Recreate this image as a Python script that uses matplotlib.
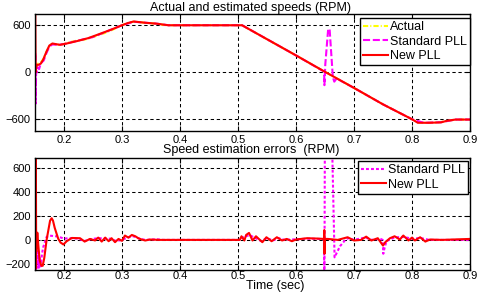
import matplotlib
matplotlib.use('Agg')
import matplotlib.pyplot as plt

plt.rcParams['font.family'] = ['Liberation Sans', 'DejaVu Sans']

# ---------------------------------------------------------------
# Data (time in sec, speed in RPM)
# ---------------------------------------------------------------
# top panel: actual speed
ACT_T = [0.15, 0.155, 0.16, 0.165, 0.17, 0.175, 0.18, 0.19, 0.20, 0.21,
         0.22, 0.23, 0.24, 0.25, 0.26, 0.27, 0.28, 0.29, 0.30, 0.31,
         0.32, 0.33, 0.34, 0.35, 0.36, 0.37, 0.38, 0.507, 0.55, 0.60,
         0.65, 0.70, 0.75, 0.80, 0.81, 0.82, 0.83, 0.84, 0.85, 0.86,
         0.87, 0.88, 0.90]
ACT_SPD = [20, 110, 125, 175, 265, 335, 362, 352, 360, 385,
           400, 410, 425, 450, 475, 500, 530, 565, 600, 630,
           645, 640, 630, 625, 620, 605, 600, 600, 420, 215,
           5, -200, -410, -600, -635, -645, -645, -642, -635, -622,
           -610, -604, -603]

# top panel: standard PLL estimate
STD_T = [0.15, 0.1505, 0.151, 0.152, 0.1535, 0.155, 0.157, 0.16, 0.165,
         0.17, 0.175, 0.18, 0.19, 0.20, 0.25, 0.30, 0.32, 0.36, 0.38,
         0.507, 0.60, 0.6485, 0.649, 0.6505, 0.6555, 0.658, 0.6635,
         0.666, 0.67, 0.70, 0.75, 0.80, 0.82, 0.85, 0.875, 0.90]
STD_SPD = [0, 246, -402, 20, 5, 60, 40, 115, 150,
           250, 330, 355, 350, 360, 450, 600, 645, 620, 600,
           600, 215, 8, -165, 100, 555, 545, -60,
           -120, -80, -200, -410, -600, -645, -638, -604, -603]

# top panel: new PLL estimate
NEW_T = [0.15, 0.1502, 0.151, 0.153, 0.156, 0.16, 0.164, 0.17, 0.1747,
         0.18, 0.193, 0.2046, 0.222, 0.242, 0.26, 0.28, 0.30, 0.31, 0.32,
         0.34, 0.36, 0.375, 0.38, 0.507, 0.60, 0.65, 0.70, 0.75, 0.80,
         0.81, 0.83, 0.85, 0.86, 0.875, 0.90]
NEW_SPD = [0, 800, 0, 95, 95, 110, 160, 267, 341,
           367, 350, 367, 397, 436, 485, 540, 600, 628, 648,
           632, 620, 605, 600, 600, 215, 5, -200, -410, -600,
           -645, -645, -640, -620, -604, -604]

# bottom panel: standard PLL error
ESTD_T = [0.15, 0.1505, 0.1512, 0.152, 0.153, 0.154, 0.155, 0.156, 0.157,
          0.158, 0.16, 0.162, 0.164, 0.167, 0.17, 0.176, 0.19, 0.20, 0.21,
          0.225, 0.235, 0.245, 0.26, 0.27, 0.28, 0.29, 0.30, 0.31, 0.32,
          0.33, 0.34, 0.36, 0.37, 0.503, 0.51, 0.52, 0.53, 0.54, 0.55,
          0.56, 0.57, 0.58, 0.60, 0.62, 0.64, 0.6482, 0.649, 0.6502, 0.659,
          0.6665, 0.671, 0.676, 0.685, 0.69, 0.70, 0.72, 0.73, 0.745,
          0.7495, 0.7505, 0.752, 0.756, 0.77, 0.785, 0.80, 0.815, 0.83, 0.90]
ESTD = [0, 900, -250, -100, -230, -60, -230, -100, -230,
        -150, -220, -120, -63, -20, 25, 35, 28, 10, 15,
        10, -10, 5, 15, 10, 10, -10, 0, 20, 30,
        10, 0, 5, 0, 0, 25, 40, 15, -10, 15,
        -5, 15, 0, 5, 10, 8, 5, -400, 1500, 1500,
        -145, -100, -52, 0, 15, 0, 20, 0, 10,
        0, -115, -80, -10, 20, 25, 10, 15, 0, 0]

# bottom panel: new PLL error
ENEW_T = [0.15, 0.1505, 0.151, 0.1515, 0.152, 0.154, 0.156, 0.158, 0.161,
          0.1633, 0.166, 0.17, 0.173, 0.176, 0.1787, 0.181, 0.184, 0.187,
          0.19, 0.194, 0.199, 0.2046, 0.2135, 0.2276, 0.2356, 0.2448,
          0.2535, 0.259, 0.265, 0.271, 0.277, 0.282, 0.288, 0.294, 0.300,
          0.305, 0.311, 0.317, 0.323, 0.328, 0.334, 0.340, 0.348, 0.366,
          0.503, 0.506, 0.511, 0.514, 0.519, 0.525, 0.531, 0.542, 0.549,
          0.558, 0.567, 0.576, 0.584, 0.593, 0.600, 0.619, 0.637, 0.6485,
          0.6488, 0.6492, 0.6496, 0.655, 0.672, 0.689, 0.700, 0.712, 0.721,
          0.730, 0.741, 0.750, 0.754, 0.762, 0.770, 0.779, 0.785, 0.794,
          0.800, 0.805, 0.814, 0.823, 0.831, 0.852, 0.900]
ENEW = [0, 900, -240, 700, -100, 60, -60, -170, -215,
        -215, -150, 0, 80, 160, 180, 160, 100, 55,
        10, -22, -38, -11, 16, 14, -14, 8,
        -5, 19, -14, 19, -11, 14, -19, 8, -8,
        36, 19, 41, 30, 14, 3, -5, 3, 0,
        0, 30, -5, 41, 58, -5, 30, -19, 22,
        -11, 22, -5, 8, -11, 3, 14, 11, 8,
        82, -115, 8, 8, 0, 22, -5, 0, 27,
        -5, 14, -47, -19, 14, 30, 3, 36, -5,
        19, -5, 22, -14, 3, 0, 8]

X_TICKS = [0.2, 0.3, 0.4, 0.5, 0.6, 0.7, 0.8, 0.9]
Y_TICKS_TOP = [-600, 0, 600]
Y_TICKS_BOT = [-200, 0, 200, 400, 600]

YELLOW, MAGENTA, RED = '#FFFF00', '#FF00FF', '#FF0000'


def style_axes(ax, yticks, ylim, xpad=3):
    ax.set_xlim(0.15, 0.9)
    ax.set_ylim(*ylim)
    ax.set_xticks(X_TICKS)
    ax.set_xticklabels([f'{v:g}' for v in X_TICKS])
    ax.set_yticks(yticks)
    ax.tick_params(direction='in', length=3.5, width=0.8, labelsize=8,
                   pad=3, top=True, right=True)
    ax.tick_params(axis='x', pad=xpad)
    ax.grid(True, color='black', lw=0.75, ls=(0, (3.2, 2.6)))
    for sp in ax.spines.values():
        sp.set_linewidth(1.0)


fig = plt.figure(figsize=(4.83, 2.92), dpi=100)
W, H = 483.0, 292.0

# ---- top: speeds ----
ax1 = fig.add_axes([35 / W, 1 - 131 / H, 435 / W, 117.5 / H])
ax1.plot(ACT_T, ACT_SPD, color=YELLOW, lw=1.5, ls=(0, (2.5, 1, 0.5, 1)),
         label='Actual')
ax1.plot(STD_T, STD_SPD, color=MAGENTA, lw=1.5, ls=(0, (3.4, 1.3)),
         label='Standard PLL')
ax1.plot(NEW_T, NEW_SPD, color=RED, lw=1.5, label='New PLL')
style_axes(ax1, Y_TICKS_TOP, (-750, 750))
leg1 = ax1.legend(loc='upper right', bbox_to_anchor=(1.0, 0.962),
                  fontsize=9, frameon=True, fancybox=False, framealpha=1,
                  edgecolor='black', borderaxespad=0, handlelength=2.0,
                  handletextpad=0.15, labelspacing=0.2, borderpad=0.25)
leg1.get_frame().set_linewidth(1.0)

# ---- bottom: errors ----
ax2 = fig.add_axes([35 / W, 1 - 270 / H, 435 / W, 112 / H])
ax2.plot(ESTD_T, ESTD, color=MAGENTA, lw=1.5, ls=(0, (1.4, 1.0)),
         label='Standard PLL')
ax2.plot(ENEW_T, ENEW, color=RED, lw=1.5, label='New PLL')
style_axes(ax2, Y_TICKS_BOT, (-250, 680), xpad=1)
leg2 = ax2.legend(loc='upper right', bbox_to_anchor=(0.9954, 0.973),
                  fontsize=9, frameon=True, fancybox=False, framealpha=1,
                  edgecolor='black', borderaxespad=0, handlelength=2.0,
                  handletextpad=0.15, labelspacing=0.2, borderpad=0.25)
leg2.get_frame().set_linewidth(1.0)

fig.text(251 / W, 1 - 7.5 / H, 'Actual and estimated speeds (RPM)',
         ha='center', va='center', fontsize=9)
fig.text(251 / W, 1 - 150 / H, 'Speed estimation errors  (RPM)',
         ha='center', va='center', fontsize=9)
fig.text(275 / W, 1 - 286.5 / H, 'Time (sec)',
         ha='center', va='center', fontsize=9)

fig.savefig('out.png', dpi=100)
